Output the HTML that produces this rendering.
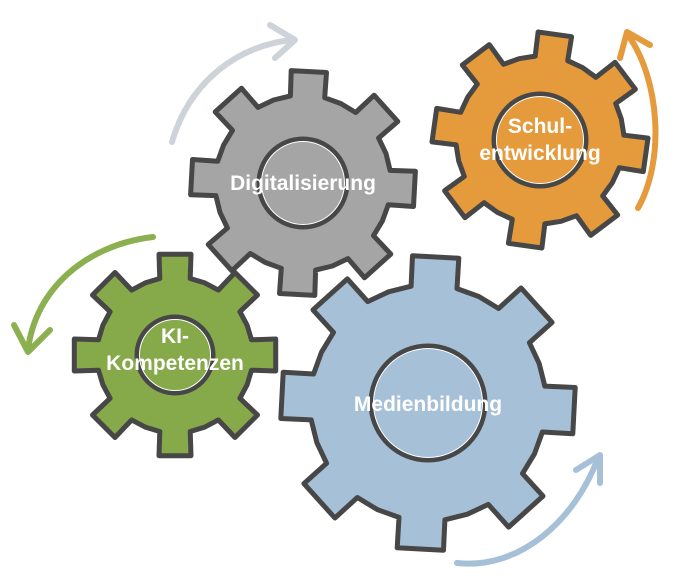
<!DOCTYPE html>
<html><head><meta charset="utf-8"><style>
html,body{margin:0;padding:0;background:#fff;width:700px;height:587px;overflow:hidden}
svg{display:block}
text{font-family:"Liberation Sans",sans-serif;fill:#fff;font-size:21px;font-weight:bold;text-anchor:middle}
</style></head><body>
<svg id="s" width="700" height="587" viewBox="0 0 700 587">
<g fill="none" stroke-linecap="round" stroke-linejoin="round" stroke-width="6">
<path d="M172,142 C190,80 240,45 292,40" stroke="#cdd3d9"/>
<path d="M270,25 L295,40 L275,58" stroke="#cdd3d9"/>
<path d="M638,208 C665,160 660,80 628,35" stroke="#e59a3c"/>
<path d="M620,58 L627,32 L650,45" stroke="#e59a3c"/>
<path d="M153,237 C85,245 35,290 28,350" stroke="#8cb04f"/>
<path d="M14,325 L28,352 L50,330" stroke="#8cb04f"/>
<path d="M457,563 C520,570 575,520 598,458" stroke="#a6c0d8"/>
<path d="M576,470 L600,455 L600,483" stroke="#a6c0d8"/>
</g>
<g id="gears"></g>
<text x="303" y="190">Digitalisierung</text>
<text x="540" y="133">Schul-</text>
<text x="540" y="160">entwicklung</text>
<text x="175" y="343">KI-</text>
<text x="175" y="370">Kompetenzen</text>
<text x="428" y="411">Medienbildung</text>
</svg>
<script>
function gear(cx,cy,R,r,ri,n,rot,fill){
  var p=[],step=2*Math.PI/n,tw=step*0.40,bw=step*0.50;
  for(var i=0;i<n;i++){
    var a=rot*Math.PI/180+i*step-Math.PI/2;
    var pts=[[r,a-bw/2],[R,a-tw/2],[R,a+tw/2],[r,a+bw/2]];
    pts.forEach(function(q){p.push((cx+q[0]*Math.cos(q[1])).toFixed(1)+","+(cy+q[0]*Math.sin(q[1])).toFixed(1));});
    var a2=a+step/2;
    p.push((cx+r*Math.cos(a2)).toFixed(1)+","+(cy+r*Math.sin(a2)).toFixed(1));
  }
  return '<path d="M'+p.join(" L")+'Z" fill="'+fill+'" stroke="#474747" stroke-width="5" stroke-linejoin="round"/>'+
    '<circle cx="'+cx+'" cy="'+cy+'" r="'+ri+'" fill="'+fill+'" stroke="#474747" stroke-width="5"/>'+
    '<circle cx="'+cx+'" cy="'+cy+'" r="'+(ri-2.5)+'" fill="none" stroke="#fff" stroke-width="1"/>';
}
document.getElementById("gears").innerHTML=
 gear(303,183,113,88,44,8,3,"#a5a5a5")+
 gear(540,140,108,84,46,8,8,"#e59a3c")+
 gear(175,355,102,78,38,8,0,"#86a94a")+
 gear(428,403,148,118,57,8,3,"#a6c0d8");
</script>
</body></html>
